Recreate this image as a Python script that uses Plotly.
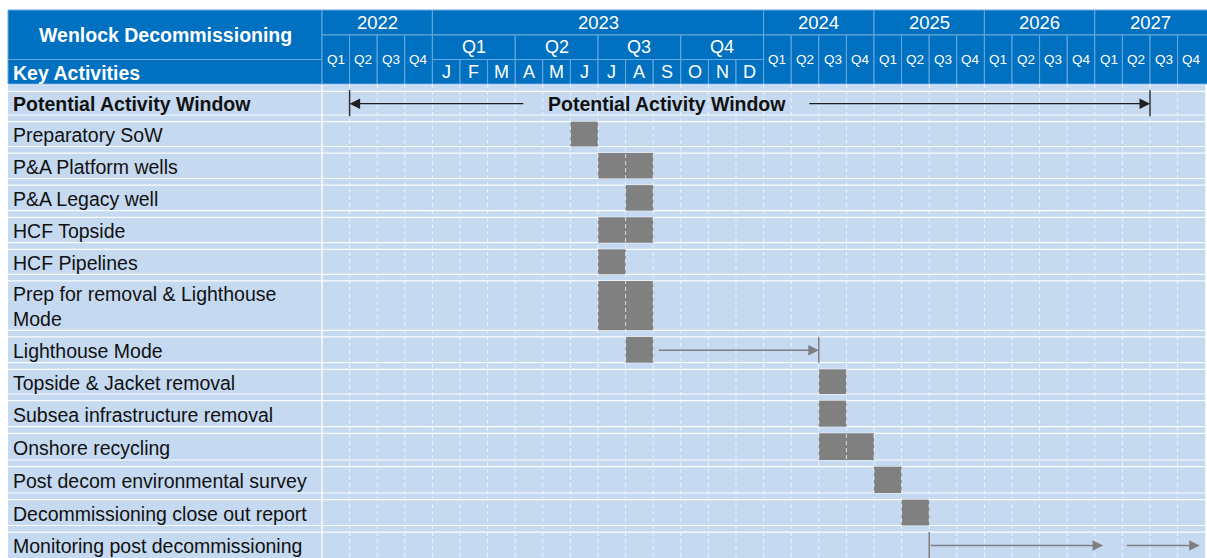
import plotly.graph_objects as go

# ---------------- data ----------------
title_text = "Wenlock Decommissioning"
subtitle_text = "Key Activities"
years = ["2022", "2023", "2024", "2025", "2026", "2027"]
quarter_labels = ["Q1", "Q2", "Q3", "Q4"]
month_names = ["Jan", "Feb", "Mar", "Apr", "May", "Jun",
               "Jul", "Aug", "Sep", "Oct", "Nov", "Dec"]
month_letters = ["J", "F", "M", "A", "M", "J", "J", "A", "S", "O", "N", "D"]

activities = [
    "Potential Activity Window",
    "Preparatory SoW",
    "P&A Platform wells",
    "P&A Legacy well",
    "HCF Topside",
    "HCF Pipelines",
    "Prep for removal & Lighthouse<br>Mode",
    "Lighthouse Mode",
    "Topside & Jacket removal",
    "Subsea infrastructure removal",
    "Onshore recycling",
    "Post decom environmental survey",
    "Decommissioning close out report",
    "Monitoring post decommissioning",
]

# gantt blocks (start / end period, inclusive)
bar_activity = [
    "Preparatory SoW", "P&A Platform wells", "P&A Legacy well", "HCF Topside",
    "HCF Pipelines", "Prep for removal & Lighthouse<br>Mode", "Lighthouse Mode",
    "Topside & Jacket removal", "Subsea infrastructure removal",
    "Onshore recycling", "Post decom environmental survey",
    "Decommissioning close out report",
]
bar_start = ["2023 Jun", "2023 Jul", "2023 Aug", "2023 Jul", "2023 Jul", "2023 Jul",
             "2023 Aug", "2024 Q3", "2024 Q3", "2024 Q3", "2025 Q1", "2025 Q2"]
bar_end = ["2023 Jun", "2023 Aug", "2023 Aug", "2023 Aug", "2023 Jul", "2023 Aug",
           "2023 Aug", "2024 Q3", "2024 Q3", "2024 Q4", "2025 Q1", "2025 Q2"]

# arrows, in timeline columns (tail -> tip)
arrow_activity = ["Potential Activity Window", "Potential Activity Window",
                  "Lighthouse Mode", "Monitoring post decommissioning",
                  "Monitoring post decommissioning"]
arrow_tail = [7.35, 17.6, 12.15, 22.0, 29.1]
arrow_tip = [1.0, 30.0, 18.0, 28.3, 31.8]

# end markers (vertical ticks), in timeline columns
tick_activity = ["Potential Activity Window", "Potential Activity Window",
                 "Lighthouse Mode", "Monitoring post decommissioning"]
tick_pos = [1.0, 30.0, 18.0, 22.0]

window_label = "Potential Activity Window"
window_label_pos = 12.5

# ---------------- layout helpers ----------------
periods = ([f"2022 {q}" for q in quarter_labels]
           + [f"2023 {m}" for m in month_names]
           + [f"{y} {q}" for y in years[2:] for q in quarter_labels])
pidx = {p: i for i, p in enumerate(periods)}
NCOL = len(periods)

W, H = 1207, 558
X0, CW = 322.0, 27.6        # px of first timeline column, px per column
LEFT = 8.0


def px(p):
    return (p - X0) / CW


BLUE = "#0070C0"
HDR_LINE = "#6AA8E0"
ROW_BG = "#C5D9F0"
BAR = "#808080"
FONT = "Liberation Sans, Arial, sans-serif"

# header rows (px)
HY0, HY1, HY2, HY3 = 10.0, 35.0, 59.5, 84.0
# body row separators (px)
seps = [88.0, 118.3, 149.8, 181.8, 214.0, 246.0, 277.6, 333.6, 366.0,
        397.3, 430.0, 463.3, 496.3, 528.8, 561.3]
row_center = {a: (seps[i] + seps[i + 1]) / 2 for i, a in enumerate(activities)}
row_height = {a: (seps[i + 1] - seps[i]) for i, a in enumerate(activities)}
GAP = 3.3

shapes = []
annotations = []


def rect(x0, x1, y0, y1, fill, line=None, lw=0, layer="below"):
    shapes.append(dict(type="rect", xref="x", yref="y", x0=x0, x1=x1, y0=y0, y1=y1,
                       fillcolor=fill, line=dict(color=line or fill, width=lw),
                       layer=layer))


def text(x, y, s, size, color="white", xanchor="center", bold=False):
    annotations.append(dict(x=x, y=y, xref="x", yref="y", text=(f"<b>{s}</b>" if bold else s),
                            showarrow=False, xanchor=xanchor, yanchor="middle",
                            align=xanchor if xanchor != "center" else "center",
                            font=dict(family=FONT, size=size, color=color)))


# ---- body background ----
rect(px(LEFT), NCOL, HY3, H + 5, ROW_BG)

# row separators (double thin white lines)
for s in seps[:-1]:
    for dy in (-GAP, GAP):
        shapes.append(dict(type="line", xref="x", yref="y", x0=px(LEFT), x1=NCOL,
                           y0=s + dy, y1=s + dy,
                           line=dict(color="rgba(255,255,255,0.9)", width=1.2),
                           layer="below"))

# vertical grid
shapes.append(dict(type="line", xref="x", yref="y", x0=0, x1=0, y0=HY3, y1=H + 5,
                   line=dict(color="white", width=1.3), layer="below"))
for i in range(1, NCOL):
    shapes.append(dict(type="line", xref="x", yref="y", x0=i, x1=i, y0=HY3, y1=H + 5,
                       line=dict(color="rgba(255,255,255,0.7)", width=1, dash="4px,3px"),
                       layer="above"))

# ---- header ----
rect(px(LEFT), 0, HY0, HY2, BLUE, HDR_LINE, 1)
rect(px(LEFT), 0, HY2, HY3, BLUE, HDR_LINE, 1)
text(px(165), (HY0 + HY2) / 2, title_text, 19.5, bold=True)
text(px(11), (HY2 + HY3) / 2 + 1, subtitle_text, 19.5, xanchor="left", bold=True)

col = 0
for y in years:
    if y == "2023":
        rect(col, col + 12, HY0, HY1, BLUE, HDR_LINE, 1)
        text(col + 6, (HY0 + HY1) / 2, y, 18.5)
        for q in range(4):
            rect(col + 3 * q, col + 3 * q + 3, HY1, HY2, BLUE, HDR_LINE, 1)
            text(col + 3 * q + 1.5, (HY1 + HY2) / 2, quarter_labels[q], 18)
        for m in range(12):
            rect(col + m, col + m + 1, HY2, HY3, BLUE, HDR_LINE, 1)
            text(col + m + 0.5, (HY2 + HY3) / 2, month_letters[m], 18)
        col += 12
    else:
        last = (y == years[-1])
        rect(col, col + 4 + (0.1 if last else 0), HY0, HY1, BLUE, HDR_LINE, 1)
        text(col + 2, (HY0 + HY1) / 2, y, 18.5)
        for q in range(4):
            rect(col + q, col + q + 1 + (0.1 if last and q == 3 else 0), HY1, HY3,
                 BLUE, HDR_LINE, 1)
            text(col + q + 0.5, (HY1 + HY3) / 2, quarter_labels[q], 13.5)
        col += 4

# ---- activity labels ----
for a in activities:
    bold = a == activities[0]
    text(px(11), row_center[a] + 1, a, 19.5, color="#111111", xanchor="left", bold=bold)
text(window_label_pos, row_center[activities[0]] + 1, window_label, 19.5,
     color="#111111", bold=True)

# ---- bars ----
fig = go.Figure()
fig.add_trace(go.Bar(
    orientation="h",
    y=[row_center[a] for a in bar_activity],
    base=[pidx[s] for s in bar_start],
    x=[pidx[e] + 1 - pidx[s] for s, e in zip(bar_start, bar_end)],
    width=[row_height[a] - 2 * GAP for a in bar_activity],
    marker=dict(color=BAR, line=dict(width=0)),
    hoverinfo="skip",
))

# ---- arrows ----
for a, t0, t1 in zip(arrow_activity, arrow_tail, arrow_tip):
    c = "#1F1F1F" if a == activities[0] else "#7F7F7F"
    yc = row_center[a] + 0.5
    annotations.append(dict(x=t1, y=yc, ax=t0, ay=yc, xref="x", yref="y",
                            axref="x", ayref="y", text="", showarrow=True,
                            arrowhead=2, arrowsize=1.5, arrowwidth=1.4,
                            arrowcolor=c, standoff=0, startstandoff=0))

for a, t in zip(tick_activity, tick_pos):
    c = "#333333" if a == activities[0] else "#7F7F7F"
    yc = row_center[a]
    shapes.append(dict(type="line", xref="x", yref="y", x0=t, x1=t,
                       y0=yc - 13, y1=yc + 13, line=dict(color=c, width=1.5),
                       layer="above"))

fig.update_layout(
    width=W, height=H,
    margin=dict(l=0, r=0, t=0, b=0),
    paper_bgcolor="white", plot_bgcolor="white",
    showlegend=False, hovermode=False,
    xaxis=dict(range=[px(0), px(W)], visible=False, fixedrange=True),
    yaxis=dict(range=[H, 0], visible=False, fixedrange=True),
    shapes=shapes, annotations=annotations,
)

fig.write_html(
    "out.html",
    config={"displayModeBar": False},
    post_script="document.body.style.margin='0';document.body.style.overflow='hidden';",
)
